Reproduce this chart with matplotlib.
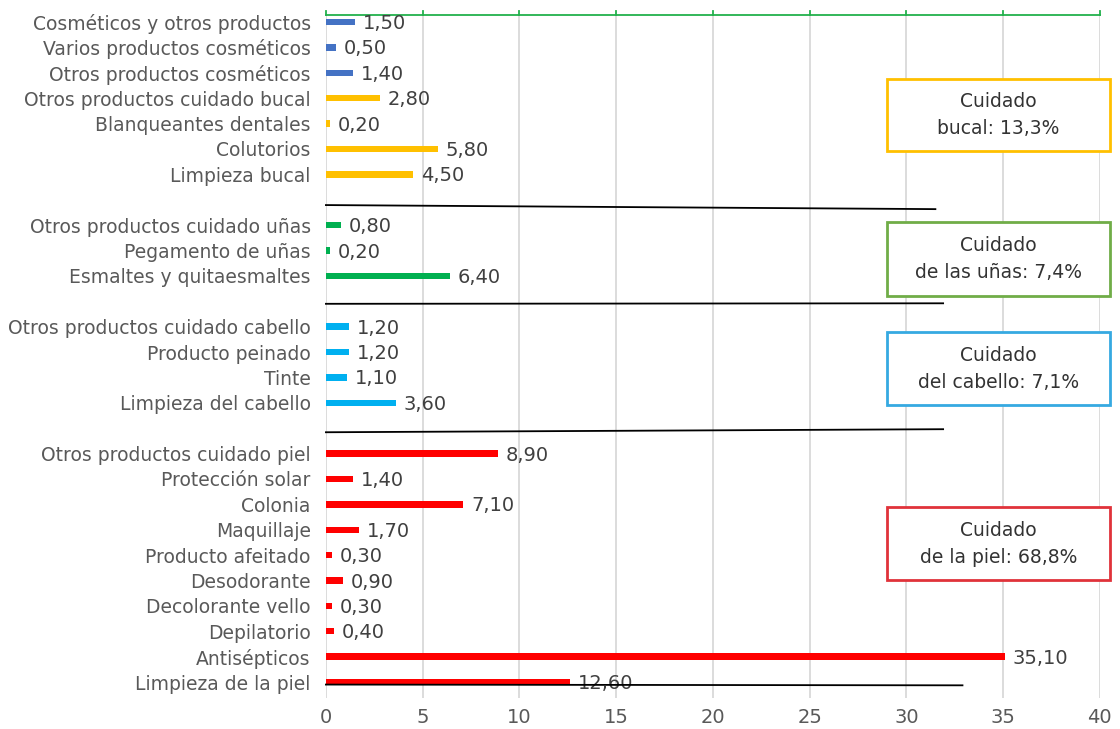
import matplotlib
matplotlib.use("Agg")
import matplotlib.pyplot as plt
from matplotlib.patches import Rectangle

plt.rcParams['font.family'] = ['DejaVu Sans']

# Data (top to bottom); None = empty separator row
categories = [
    "Cosméticos y otros productos", "Varios productos cosméticos", "Otros productos cosméticos",
    "Otros productos cuidado bucal", "Blanqueantes dentales", "Colutorios", "Limpieza bucal",
    None,
    "Otros productos cuidado uñas", "Pegamento de uñas", "Esmaltes y quitaesmaltes",
    None,
    "Otros productos cuidado cabello", "Producto peinado", "Tinte", "Limpieza del cabello",
    None,
    "Otros productos cuidado piel", "Protección solar", "Colonia", "Maquillaje",
    "Producto afeitado", "Desodorante", "Decolorante vello", "Depilatorio",
    "Antisépticos", "Limpieza de la piel",
]
values = [1.5, 0.5, 1.4,
          2.8, 0.2, 5.8, 4.5,
          None,
          0.8, 0.2, 6.4,
          None,
          1.2, 1.2, 1.1, 3.6,
          None,
          8.9, 1.4, 7.1, 1.7, 0.3, 0.9, 0.3, 0.4, 35.1, 12.6]
groups = ["cos", "cos", "cos",
          "bucal", "bucal", "bucal", "bucal",
          None,
          "unas", "unas", "unas",
          None,
          "cab", "cab", "cab", "cab",
          None,
          "piel", "piel", "piel", "piel", "piel", "piel", "piel", "piel", "piel", "piel"]
group_colors = {"cos": "#4472C4", "bucal": "#FFC000", "unas": "#00B050",
                "cab": "#00B0F0", "piel": "#FF0000"}

box_texts = ["Cuidado\nbucal: 13,3%", "Cuidado\nde las uñas: 7,4%",
             "Cuidado\ndel cabello: 7,1%", "Cuidado\nde la piel: 68,8%"]
box_edge = ["#FFC000", "#70AD47", "#36A9E1", "#E0323A"]
# box extents in data units: (x0, x1, y_top_row, y_bottom_row)
box_ext = [(29.0, 40.5, 2.25, 5.09), (29.0, 40.5, 7.88, 10.8),
           (29.0, 40.5, 12.22, 15.1), (29.0, 40.5, 19.12, 22.0)]
# separator lines: (x0, y0, x1, y1)
separators = [(0, 7.21, 31.5, 7.37), (0, 11.1, 31.9, 11.08),
              (0, 16.16, 31.9, 16.04), (0, 26.1, 32.9, 26.13)]

fig = plt.figure(figsize=(11.2, 7.29), dpi=100)
ax = fig.add_axes([0.291, 0.0425, 0.691, 0.937])

ypos = list(range(len(categories)))
for y, v, g in zip(ypos, values, groups):
    if v is None:
        continue
    ax.barh(y, v, height=0.25, color=group_colors[g], zorder=3)
    ax.text(v + 0.4, y + 0.06, f"{v:.2f}".replace(".", ","), va="center", ha="left",
            fontsize=14, color="#404040", zorder=4)

ax.set_ylim(len(categories) - 1 + 0.63, -0.28)
ax.set_xlim(0, 40)
ax.set_xticks(range(0, 41, 5))
ax.set_xticklabels([str(t) for t in range(0, 41, 5)], fontsize=14, color="#595959")
ax.set_yticks([y for y, c in zip(ypos, categories) if c is not None])
ax.set_yticklabels([c for c in categories if c is not None], fontsize=13.5, color="#595959")
ax.tick_params(axis="y", length=0, pad=11)
ax.tick_params(axis="x", length=0, pad=7)

ax.grid(axis="x", color="#D9D9D9", linewidth=1.3, zorder=0)
for s in ["left", "right", "bottom"]:
    ax.spines[s].set_visible(False)
ax.spines["top"].set_color("#22B14C")
ax.spines["top"].set_linewidth(1.3)
# small upward ticks on top spine
for t in range(0, 41, 5):
    ax.plot([t, t], [-0.28, -0.45], color="#22B14C", lw=1.3, clip_on=False, zorder=5)

for (x0, y0, x1, y1) in separators:
    ax.plot([x0, x1], [y0, y1], color="black", lw=1.3, zorder=5, clip_on=False)

for txt, ec, (x0, x1, yt, yb) in zip(box_texts, box_edge, box_ext):
    ax.add_patch(Rectangle((x0, yt), x1 - x0, yb - yt, facecolor="white", edgecolor=ec,
                           lw=2, zorder=6, clip_on=False))
    ax.text((x0 + x1) / 2, (yt + yb) / 2, txt, ha="center", va="center", fontsize=13.5,
            color="#333333", linespacing=1.5, zorder=7, clip_on=False)

fig.savefig("out.png", dpi=100)
